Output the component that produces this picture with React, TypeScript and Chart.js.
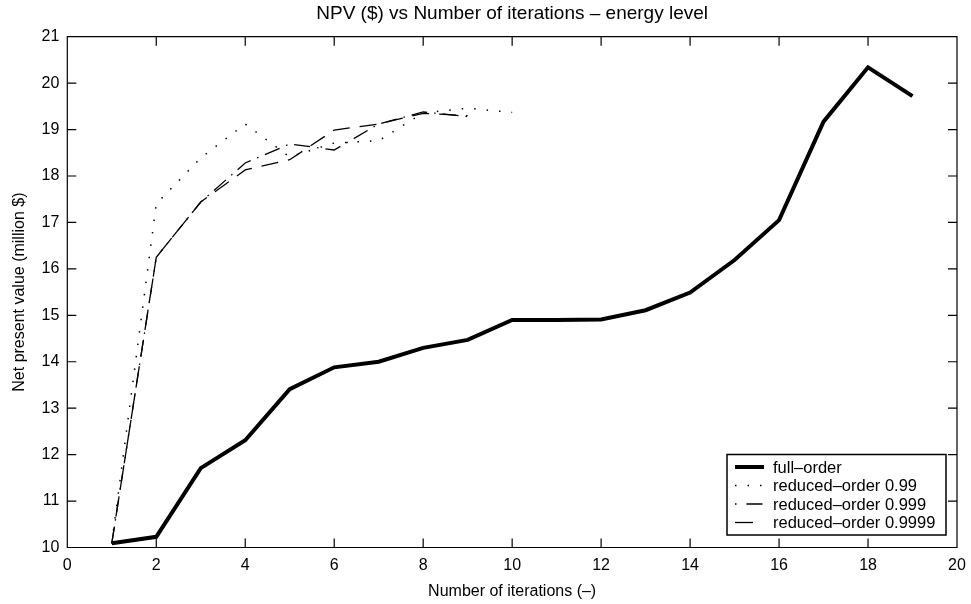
import React, { useEffect, useRef } from "react";
import { Chart, registerables } from "chart.js";

Chart.register(...registerables);

const FONT = "'Liberation Sans', Arial, Helvetica, sans-serif";

const chartTitle = "NPV ($) vs Number of iterations \u2013 energy level";
const xTitle = "Number of iterations (\u2013)";
const yTitle = "Net present value (million $)";

const xTicks = [0, 2, 4, 6, 8, 10, 12, 14, 16, 18, 20];
const yTicks = [10, 11, 12, 13, 14, 15, 16, 17, 18, 19, 20, 21];

const fullIter = [1, 2, 3, 4, 5, 6, 7, 8, 9, 10, 11, 12, 13, 14, 15, 16, 17, 18, 19];
const fullOrder = [10.09, 10.23, 11.71, 12.31, 13.41, 13.88, 14.0, 14.3, 14.47, 14.9, 14.9, 14.91, 15.11, 15.49, 16.19, 17.05, 19.17, 20.34, 19.72];

const iter99 = [1, 2, 3, 4, 5, 6, 7, 8, 9, 10];
const reduced99 = [10.09, 17.4, 18.39, 19.12, 18.41, 18.71, 18.76, 19.36, 19.46, 19.37];

const iter999 = [1, 2, 3, 4, 5, 6, 7, 8, 9];
const reduced999 = [10.09, 16.25, 17.44, 18.28, 18.69, 18.56, 19.12, 19.38, 19.28];

const iter9999 = [1, 2, 3, 4, 5, 6, 7, 8, 9];
const reduced9999 = [10.09, 16.25, 17.44, 18.13, 18.35, 18.99, 19.12, 19.35, 19.3];

const seriesLabels = ["full\u2013order", "reduced\u2013order 0.99", "reduced\u2013order 0.999", "reduced\u2013order 0.9999"];

const toPoints = (xs: number[], ys: number[]) => xs.map((x, i) => ({ x, y: ys[i] }));

const framePlugin = {
  id: "matlabFrame",
  afterDraw(chart: any) {
    const { ctx, chartArea: ca } = chart;
    const xs = chart.scales.x;
    const ys = chart.scales.y;
    const tl = 9;
    ctx.save();
    ctx.strokeStyle = "#000";
    ctx.lineWidth = 1.2;
    ctx.beginPath();
    ctx.rect(ca.left, ca.top, ca.right - ca.left, ca.bottom - ca.top);
    for (const v of xTicks) {
      const px = xs.getPixelForValue(v);
      ctx.moveTo(px, ca.bottom);
      ctx.lineTo(px, ca.bottom - tl);
      ctx.moveTo(px, ca.top);
      ctx.lineTo(px, ca.top + tl);
    }
    for (const v of yTicks) {
      const py = ys.getPixelForValue(v);
      ctx.moveTo(ca.left, py);
      ctx.lineTo(ca.left + tl, py);
      ctx.moveTo(ca.right, py);
      ctx.lineTo(ca.right - tl, py);
    }
    ctx.stroke();

    // legend
    const dsets = chart.data.datasets;
    const rowH = 18.5;
    const pad = 3.25;
    const right = ca.right - 11;
    const bottom = ca.bottom - 12.5;
    const width = 219;
    const height = dsets.length * rowH + pad * 2;
    const left = right - width;
    const top = bottom - height;
    ctx.fillStyle = "#fff";
    ctx.fillRect(left, top, width, height);
    ctx.lineWidth = 1.5;
    ctx.strokeStyle = "#000";
    ctx.strokeRect(left, top, width, height);
    ctx.font = `16.5px ${FONT}`;
    ctx.textBaseline = "middle";
    ctx.textAlign = "left";
    dsets.forEach((d: any, i: number) => {
      const cy = top + pad + rowH * (i + 0.5);
      ctx.save();
      ctx.beginPath();
      ctx.strokeStyle = d.borderColor;
      ctx.lineWidth = d.borderWidth;
      ctx.setLineDash(d.legendDash || d.borderDash || []);
      ctx.lineDashOffset = 0;
      ctx.moveTo(left + 8, cy);
      ctx.lineTo(left + 37, cy);
      ctx.stroke();
      ctx.restore();
      ctx.fillStyle = "#000";
      ctx.fillText(d.label, left + 46, cy + 1);
    });
    ctx.restore();
  },
};

export default function App() {
  const ref = useRef<HTMLCanvasElement | null>(null);

  useEffect(() => {
    document.body.style.margin = "0";
    const canvas = ref.current;
    if (!canvas) return;
    const chart = new Chart(canvas, {
      type: "line",
      data: {
        datasets: [
          {
            label: seriesLabels[0],
            data: toPoints(fullIter, fullOrder),
            borderColor: "#000",
            borderWidth: 4,
            pointRadius: 0,
            tension: 0,
            borderJoinStyle: "miter",
            borderCapStyle: "butt",
          },
          {
            label: seriesLabels[1],
            data: toPoints(iter99, reduced99),
            borderColor: "#000",
            borderWidth: 1.5,
            borderDash: [1.5, 11],
            pointRadius: 0,
            tension: 0,
          },
          {
            label: seriesLabels[2],
            data: toPoints(iter999, reduced999),
            borderColor: "#000",
            borderWidth: 1.3,
            borderDash: [16, 7, 1.5, 7],
            legendDash: [1.5, 10, 16, 7],
            pointRadius: 0,
            tension: 0,
          },
          {
            label: seriesLabels[3],
            data: toPoints(iter9999, reduced9999),
            borderColor: "#000",
            borderWidth: 1.3,
            borderDash: [17, 10],
            legendDash: [18, 30],
            pointRadius: 0,
            tension: 0,
          },
        ] as any,
      },
      options: {
        animation: false,
        responsive: false,
        maintainAspectRatio: false,
        events: [],
        layout: { padding: { left: 0, right: 14, top: 0, bottom: 0 } },
        plugins: {
          legend: { display: false },
          tooltip: { enabled: false },
          title: {
            display: true,
            text: chartTitle,
            color: "#000",
            fullSize: false,
            font: { family: FONT, size: 19, weight: "normal" },
            padding: { top: 2, bottom: 11.9 },
          },
        },
        scales: {
          x: {
            type: "linear",
            min: 0,
            max: 20,
            afterBuildTicks: (s: any) => {
              s.ticks = xTicks.map((v) => ({ value: v }));
            },
            afterFit: (s: any) => {
              s.height = 56.5;
              s.paddingLeft = 0;
              s.paddingRight = 0;
            },
            grid: { display: false, drawTicks: false },
            border: { display: false },
            ticks: {
              color: "#000",
              padding: 8,
              maxRotation: 0,
              autoSkip: false,
              font: { family: FONT, size: 16 },
            },
            title: {
              display: true,
              text: xTitle,
              color: "#000",
              font: { family: FONT, size: 16 },
              padding: { top: 0, bottom: 2.5 },
            },
          },
          y: {
            type: "linear",
            min: 10,
            max: 21,
            afterBuildTicks: (s: any) => {
              s.ticks = yTicks.map((v) => ({ value: v }));
            },
            afterFit: (s: any) => {
              s.width = 67.3;
              s.paddingTop = 0;
              s.paddingBottom = 0;
            },
            grid: { display: false, drawTicks: false },
            border: { display: false },
            ticks: {
              color: "#000",
              padding: 8,
              autoSkip: false,
              font: { family: FONT, size: 16 },
            },
            title: {
              display: true,
              text: yTitle,
              color: "#000",
              font: { family: FONT, size: 16 },
              padding: { top: 10, bottom: 0 },
            },
          },
        },
      } as any,
      plugins: [framePlugin],
    });
    return () => chart.destroy();
  }, []);

  return (
    <div style={{ position: "absolute", left: 0, top: 0, width: 971, height: 604, background: "#fff" }}>
      <canvas ref={ref} width={971} height={604} style={{ display: "block" }} />
    </div>
  );
}
